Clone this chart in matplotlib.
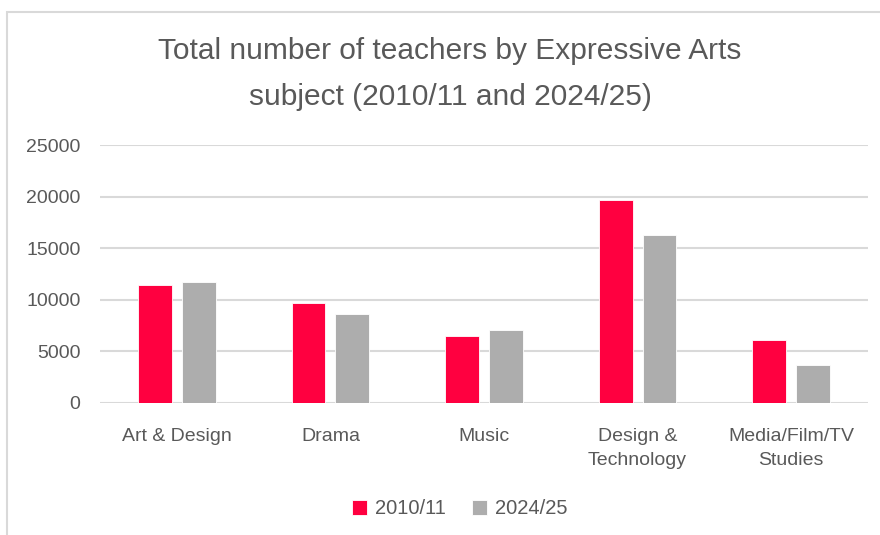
import numpy as np
import matplotlib
matplotlib.use('Agg')
import matplotlib.pyplot as plt
from matplotlib.patches import Rectangle

plt.rcParams['font.family'] = ['Liberation Sans', 'DejaVu Sans']

# teachers per Expressive Arts subject
subjects = ['Art & Design', 'Drama', 'Music', 'Design &\nTechnology', 'Media/Film/TV\nStudies']
teachers_2010 = [11400, 9700, 6500, 19700, 6050]
teachers_2024 = [11750, 8600, 7050, 16250, 3650]
series_names = ['2010/11', '2024/25']
yticks = [0, 5000, 10000, 15000, 20000, 25000]

red = '#FF0040'
grey = '#ADADAD'
text_col = '#595959'

fig = plt.figure(figsize=(8.8, 5.35), dpi=100)
W, H = 880, 535

# chart area frame
fig.patches.append(Rectangle((7 / W, -0.1), 1.1, 1 - 12 / H + 0.1,
                             transform=fig.transFigure, fill=False,
                             edgecolor='#D9D9D9', linewidth=1.5))

ax = fig.add_axes([100 / W, 1 - 402.7 / H, 768 / W, (402.7 - 145.3) / H])

x = np.arange(len(subjects))
off = 0.143
w = 0.22
ax.bar(x - off, teachers_2010, w, color=red, edgecolor='white', linewidth=0.6,
       label=series_names[0], zorder=3)
ax.bar(x + off, teachers_2024, w, color=grey, edgecolor='white', linewidth=0.6,
       label=series_names[1], zorder=3)

ax.set_xlim(-0.5, len(subjects) - 0.5)
ax.set_ylim(0, 25000)
ax.set_yticks(yticks)
ax.set_yticklabels([str(t) for t in yticks], fontsize=14)
ax.set_xticks(x)
ax.set_xticklabels(subjects, linespacing=1.55, fontsize=14)
ax.yaxis.grid(True, color='#D9D9D9', linewidth=1.5, zorder=0)
ax.set_axisbelow(True)
for s in ax.spines.values():
    s.set_visible(False)
ax.tick_params(axis='both', length=0, colors=text_col)
ax.tick_params(axis='y', pad=14)
ax.tick_params(axis='x', pad=18)

fig.text(450 / W, 1 - 51 / H, 'Total number of teachers by Expressive Arts',
         ha='center', va='center', fontsize=21.5, color=text_col)
fig.text(450 / W, 1 - 97 / H, 'subject (2010/11 and 2024/25)',
         ha='center', va='center', fontsize=21.5, color=text_col)

leg = fig.legend(loc='center', bbox_to_anchor=(460 / W, 1 - 509 / H), ncol=2,
                 frameon=False, fontsize=14.5, handlelength=0.75, handleheight=0.75,
                 handletextpad=0.4, columnspacing=1.3)
for t in leg.get_texts():
    t.set_color(text_col)

fig.savefig('out.png', dpi=100)
